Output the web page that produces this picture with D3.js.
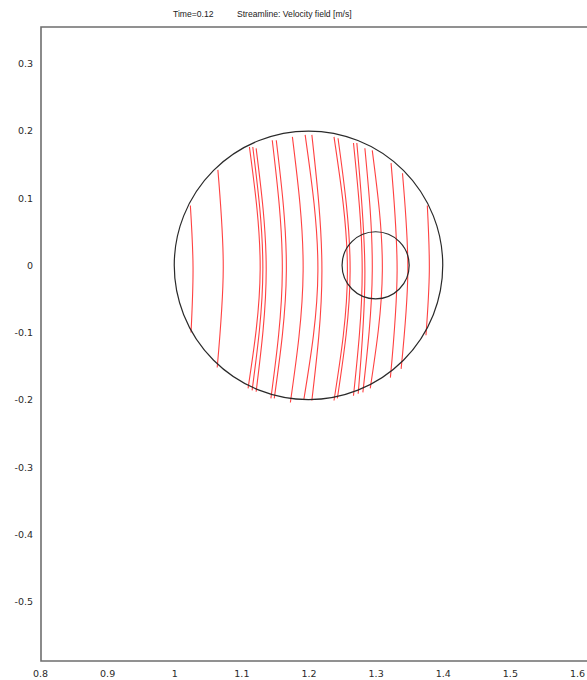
<!DOCTYPE html>
<html>
<head>
<meta charset="utf-8">
<script src="https://cdn.jsdelivr.net/npm/d3@7"></script>
<style>
  html, body { margin: 0; padding: 0; background: #fff; }
  svg { display: block; }
</style>
</head>
<body>
<svg id="chart" width="587" height="680"></svg>
<script>
// Plot labels
const titleTime = "Time=0.12";
const titleExpr = "Streamline: Velocity field [m/s]";

// Axis tick labels
const xTicks = [0.8, 0.9, 1, 1.1, 1.2, 1.3, 1.4, 1.5, 1.6];
const yTicks = [0.3, 0.2, 0.1, 0, -0.1, -0.2, -0.3, -0.4, -0.5];

// Geometry boundaries: [centre x, centre y, radius]
const outerCircle = [1.2, 0, 0.2];
const innerCircle = [1.3, 0, 0.05];

// Streamlines, each as [x, y] points from top to bottom
const streamlines = [
  [[1.024, 0.089], [1.028, -0.004], [1.025, -0.100]],
  [[1.065, 0.142], [1.073, -0.004], [1.064, -0.152]],
  [[1.112, 0.176], [1.128, -0.006], [1.110, -0.183]],
  [[1.117, 0.176], [1.132, -0.006], [1.116, -0.186]],
  [[1.122, 0.174], [1.137, -0.006], [1.122, -0.188]],
  [[1.146, 0.186], [1.161, -0.008], [1.144, -0.198]],
  [[1.152, 0.186], [1.167, -0.008], [1.149, -0.198]],
  [[1.176, 0.191], [1.192, -0.008], [1.173, -0.204]],
  [[1.195, 0.194], [1.214, -0.008], [1.193, -0.200]],
  [[1.205, 0.194], [1.220, -0.008], [1.205, -0.201]],
  [[1.238, 0.191], [1.258, -0.008], [1.238, -0.201]],
  [[1.244, 0.189], [1.262, -0.008], [1.243, -0.198]],
  [[1.267, 0.182], [1.280, -0.008], [1.267, -0.194]],
  [[1.272, 0.182], [1.284, -0.008], [1.274, -0.191]],
  [[1.284, 0.174], [1.295, -0.008], [1.281, -0.189]],
  [[1.295, 0.171], [1.310, -0.008], [1.292, -0.183]],
  [[1.323, 0.152], [1.332, -0.008], [1.322, -0.167]],
  [[1.340, 0.137], [1.348, -0.008], [1.338, -0.154]],
  [[1.377, 0.089], [1.380, -0.008], [1.375, -0.104]]
];

const svg = d3.select("#chart");
const W = 587, H = 680;

// Equal-aspect scales: 0.1 units ≈ 67 px on both axes
const x = d3.scaleLinear().domain([0.8, 1.6]).range([40, 577]);
const y = d3.scaleLinear().domain([-0.5, 0.3]).range([601.5, 63.6]);

const frameLeft = 41, frameTop = 27, frameBottom = 661;

// Frame lines (left, top, bottom); the right edge lies outside the view
const frame = svg.append("g")
  .attr("stroke", "#6e6e6e")
  .attr("stroke-width", 1.6)
  .attr("fill", "none");
frame.append("path")
  .attr("d", `M${W},${frameTop}H${frameLeft}V${frameBottom}H${W}`);

// Title
const title = svg.append("g")
  .attr("font-family", "'Liberation Sans', Arial, sans-serif")
  .attr("font-size", 8.6)
  .attr("fill", "#222");
title.append("text").attr("x", 173).attr("y", 17).text(titleTime);
title.append("text").attr("x", 237).attr("y", 17).text(titleExpr);

// Axes: labels only, no domain line or tick marks
const xAxis = d3.axisBottom(x)
  .tickValues(xTicks)
  .tickSize(0)
  .tickPadding(0)
  .tickFormat(d => String(d));
const gx = svg.append("g")
  .attr("transform", `translate(0,${frameBottom + 9})`)
  .call(xAxis);
gx.select(".domain").remove();

const yAxis = d3.axisLeft(y)
  .tickValues(yTicks)
  .tickSize(0)
  .tickPadding(0)
  .tickFormat(d => String(d));
const gy = svg.append("g")
  .attr("transform", `translate(33,0)`)
  .call(yAxis);
gy.select(".domain").remove();

svg.selectAll(".tick text")
  .attr("font-family", "'DejaVu Sans', Verdana, sans-serif")
  .attr("font-size", 9.5)
  .attr("fill", "#2a2a2a");
gx.selectAll(".tick text").attr("dy", "0.71em");

// Plot area clip
svg.append("defs").append("clipPath").attr("id", "plotClip")
  .append("rect")
  .attr("x", frameLeft).attr("y", frameTop)
  .attr("width", W - frameLeft).attr("height", frameBottom - frameTop);

const plot = svg.append("g").attr("clip-path", "url(#plotClip)");

// Streamlines
const line = d3.line()
  .x(d => x(d[0]))
  .y(d => y(d[1]))
  .curve(d3.curveNatural);

plot.append("g")
  .selectAll("path")
  .data(streamlines)
  .join("path")
  .attr("d", line)
  .attr("fill", "none")
  .attr("stroke", "#ff2020")
  .attr("stroke-width", 1.1)
  .attr("stroke-opacity", 0.85);

// Boundary circles
const pxPerUnit = x(1) - x(0);
plot.append("g")
  .selectAll("circle")
  .data([outerCircle, innerCircle])
  .join("circle")
  .attr("cx", d => x(d[0]))
  .attr("cy", d => y(d[1]))
  .attr("r", d => d[2] * pxPerUnit)
  .attr("fill", "none")
  .attr("stroke", "#2a2a2a")
  .attr("stroke-width", 1.2);
</script>
</body>
</html>
